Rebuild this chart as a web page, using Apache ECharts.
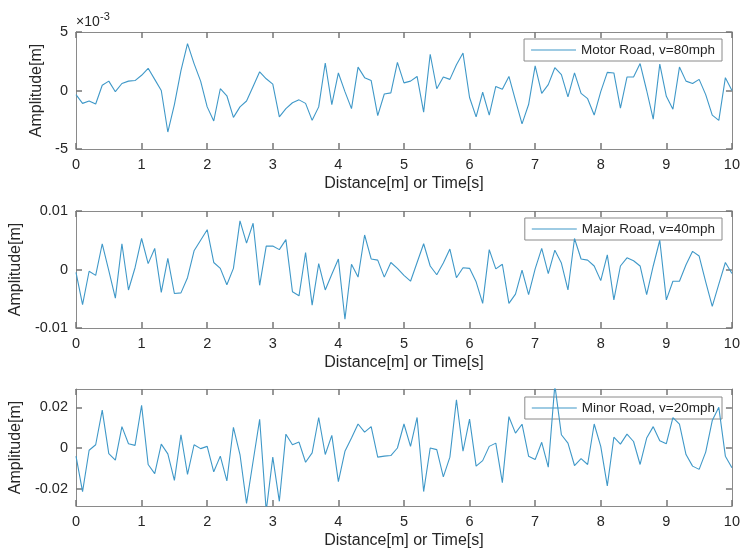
<!DOCTYPE html>
<html>
<head>
<meta charset="utf-8">
<script src="https://cdn.jsdelivr.net/npm/echarts@6/dist/echarts.min.js"></script>
<style>html,body{margin:0;padding:0;background:#fff}#c{width:743px;height:550px}</style>
</head>
<body>
<div id="c"></div>
<script>
// Distance[m] or Time[s]
const distance = [0,0.1,0.2,0.3,0.4,0.5,0.6,0.7,0.8,0.9,
  1,1.1,1.2,1.3,1.4,1.5,1.6,1.7,1.8,1.9,
  2,2.1,2.2,2.3,2.4,2.5,2.6,2.7,2.8,2.9,
  3,3.1,3.2,3.3,3.4,3.5,3.6,3.7,3.8,3.9,
  4,4.1,4.2,4.3,4.4,4.5,4.6,4.7,4.8,4.9,
  5,5.1,5.2,5.3,5.4,5.5,5.6,5.7,5.8,5.9,
  6,6.1,6.2,6.3,6.4,6.5,6.6,6.7,6.8,6.9,
  7,7.1,7.2,7.3,7.4,7.5,7.6,7.7,7.8,7.9,
  8,8.1,8.2,8.3,8.4,8.5,8.6,8.7,8.8,8.9,
  9,9.1,9.2,9.3,9.4,9.5,9.6,9.7,9.8,9.9,10];

// Motor Road amplitude, in units of 1e-3 m
const motorRoadE3 = [-0.35,-1.1,-0.9,-1.15,0.45,0.8,-0.1,0.6,0.8,0.85,
  1.3,1.9,0.95,0,-3.55,-1.2,1.7,4.0,2.3,0.8,
  -1.4,-2.6,0.15,-0.45,-2.3,-1.4,-0.9,0.35,1.6,1.0,
  0.55,-2.25,-1.55,-1.05,-0.8,-1.1,-2.55,-1.4,2.35,-1.2,
  1.5,-0.1,-1.55,2.0,1.1,0.85,-2.15,-0.3,-0.2,2.4,
  0.65,0.8,1.2,-1.85,3.1,0.15,1.15,0.95,2.2,3.2,
  -0.6,-2.25,-0.15,-2.1,0.35,0.1,1.2,-0.85,-2.85,-1.2,
  2.1,-0.25,0.5,1.95,1.35,-0.55,1.5,-0.25,-0.7,-2.1,
  -0.1,1.55,1.5,-1.5,1.15,1.15,2.3,0,-2.45,2.25,
  -0.5,-1.6,2.0,0.8,0.6,0.95,-0.35,-2.1,-2.55,1.1,
  0];

// Major Road amplitude, m
const majorRoad = [-0.0005,-0.006,-0.0003,-0.001,0.0044,-0.0002,-0.0049,0.0044,-0.0035,0.0003,
  0.0053,0.001,0.0036,-0.0039,0.0019,-0.0041,-0.004,-0.0014,0.0032,0.005,
  0.0068,0.0012,0.0002,-0.0026,0.0002,0.0083,0.0045,0.0079,-0.0027,0.004,
  0.004,0.0034,0.0051,-0.0038,-0.0045,0.0029,-0.0061,0.001,-0.0035,-0.0008,
  0.0018,-0.0085,0.0009,-0.0013,0.0059,0.0018,0.0016,-0.0013,0.0012,0.0002,
  -0.001,-0.002,0.0012,0.0044,0.0006,-0.0009,0.0011,0.0035,-0.0014,0.0003,
  0.0002,-0.0021,-0.0058,0.0034,0.0001,0.0009,-0.0058,-0.0042,-0.0001,-0.0043,
  0.0001,0.0036,-0.0007,0.0033,0.0011,-0.0035,0.0053,0.0018,0.0016,0.0006,
  -0.0019,0.0025,-0.0052,0.0006,0.002,0.0015,0.0006,-0.0043,0.0006,0.005,
  -0.0052,-0.002,-0.002,0.0008,0.0031,0.0023,-0.0021,-0.0063,-0.0025,0.0012,
  -0.0007];

// Minor Road amplitude, m
const minorRoad = [-0.004,-0.0214,-0.0011,0.0016,0.0186,-0.0028,-0.006,0.0105,0.0021,0.0013,
  0.021,-0.0081,-0.0126,0.0019,-0.0029,-0.0159,0.0065,-0.013,0.0016,-0.0003,
  0.0008,-0.0117,-0.004,-0.0162,0.0102,-0.0032,-0.0272,-0.0065,0.0141,-0.031,
  -0.0045,-0.0262,0.0068,0.0016,0.0029,-0.007,-0.0024,0.015,-0.0032,0.0062,
  -0.0165,-0.0016,0.0049,0.0118,0.0078,0.0105,-0.0045,-0.004,-0.0037,0,
  0.0118,0.0008,0.015,-0.0214,0,-0.0008,-0.0142,-0.0045,0.0237,-0.0016,
  0.0142,-0.0089,-0.0062,0.0008,0.0024,-0.017,0.0154,0.0073,0.0117,-0.004,
  -0.0057,0.0028,-0.0094,0.031,0.0065,0.0024,-0.0086,-0.0052,-0.0081,0.0118,
  0.0008,-0.0186,0.0053,0.0019,0.0068,0.0032,-0.0081,0.0049,0.0105,0.0036,
  0.0021,0.0149,0.0117,-0.0032,-0.0089,-0.0105,-0.002,0.0135,0.02,-0.004,
  -0.0097];

const seriesNames = ['Motor Road, v=80mph', 'Major Road, v=40mph', 'Minor Road, v=20mph'];
const yTicks = [[-5,0,5],[-0.01,0,0.01],[-0.02,0,0.02]];
const yRanges = [[-5,5],[-0.01,0.01],[-0.0285,0.029]];
const xLabel = 'Distance[m] or Time[s]';
const yLabel = 'Amplitude[m]';

const FONT = '"Liberation Sans", Arial, Helvetica, sans-serif';
const AX = '#8a8a8a';
const TICK = '#777';
const TXT = '#262626';
const LINE = '#3f98c8';

const gridTops = [32, 211, 389];
const gridHeights = [117, 117, 119];
const yNameGaps = [26, 46, 47];
const legendTops = [39, 218, 397];
const allY = [motorRoadE3, majorRoad, minorRoad];

const grids = [], xAxes = [], yAxes = [], series = [], legends = [];
for (let i = 0; i < 3; i++) {
  grids.push({left: 76, right: 9, top: gridTops[i], height: gridHeights[i], show: false});
  const axLine = () => ({show: true, onZero: false, lineStyle: {color: AX, width: 1}});
  const xTick = () => ({show: true, inside: true, length: 6, lineStyle: {color: TICK, width: 1.5}});
  xAxes.push({gridIndex: i, type: 'value', position: 'bottom', min: 0, max: 10, interval: 1,
    axisLine: axLine(), splitLine: {show: false}, axisTick: xTick(),
    axisLabel: {show: true, margin: 8, fontSize: 14.5, color: TXT, fontFamily: FONT},
    name: xLabel, nameLocation: 'middle', nameGap: 27,
    nameTextStyle: {fontSize: 16, color: TXT, fontFamily: FONT}});
  xAxes.push({gridIndex: i, type: 'value', position: 'top', min: 0, max: 10, interval: 1,
    axisLine: axLine(), splitLine: {show: false}, axisTick: xTick(),
    axisLabel: {show: false}});
  const yTick = () => ({show: true, inside: true, length: 6, lineStyle: {color: TICK, width: 1.5}, customValues: yTicks[i]});
  yAxes.push({gridIndex: i, type: 'value', position: 'left', min: yRanges[i][0], max: yRanges[i][1],
    axisLine: axLine(), splitLine: {show: false}, axisTick: yTick(),
    axisLabel: {show: true, margin: 8, fontSize: 14.5, color: TXT, fontFamily: FONT, customValues: yTicks[i],
      formatter: v => String(Math.round(v * 1000) / 1000)},
    name: yLabel, nameLocation: 'middle', nameGap: yNameGaps[i], nameRotate: 90,
    nameTextStyle: {fontSize: 16, color: TXT, fontFamily: FONT}});
  yAxes.push({gridIndex: i, type: 'value', position: 'right', min: yRanges[i][0], max: yRanges[i][1],
    axisLine: axLine(), splitLine: {show: false}, axisTick: yTick(),
    axisLabel: {show: false, customValues: yTicks[i]}});
  series.push({name: seriesNames[i], type: 'line', xAxisIndex: 2 * i, yAxisIndex: 2 * i,
    data: distance.map((x, k) => [x, allY[i][k]]), symbol: 'none', z: 5, clip: true,
    lineStyle: {color: LINE, width: 1.1}, itemStyle: {color: LINE}, animation: false});
  legends.push({data: [{name: seriesNames[i], icon: 'rect'}], right: 21, top: legendTops[i], z: 3,
    backgroundColor: '#fff', borderColor: AX, borderWidth: 1, borderRadius: 0,
    padding: [3, 7], itemWidth: 45, itemHeight: 1.2, itemGap: 5,
    itemStyle: {color: LINE},
    textStyle: {fontSize: 13.5, color: TXT, fontFamily: FONT, lineHeight: 16}});
}

const chart = echarts.init(document.getElementById('c'), null, {renderer: 'canvas'});
chart.setOption({
  animation: false,
  backgroundColor: '#fff',
  grid: grids, xAxis: xAxes, yAxis: yAxes, series: series, legend: legends,
  graphic: [
    {type: 'text', left: 76, top: 15, style: {text: '×10', fontSize: 14, fill: TXT, fontFamily: FONT}},
    {type: 'text', left: 100, top: 11, style: {text: '-3', fontSize: 11, fill: TXT, fontFamily: FONT}}
  ]
});
</script>
</body>
</html>
